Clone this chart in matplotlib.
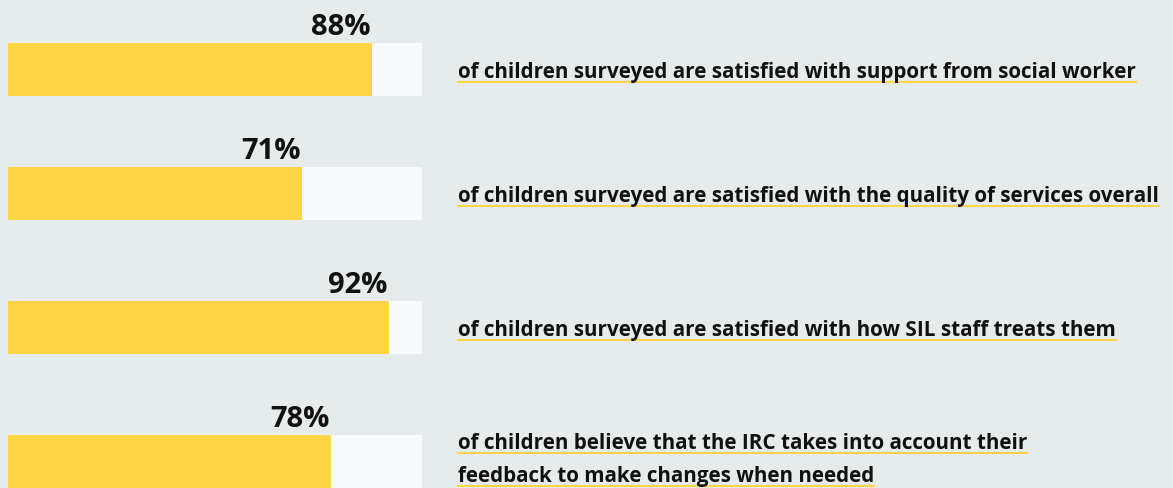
import matplotlib.pyplot as plt
from matplotlib.lines import Line2D

W, H = 1173, 488

# data
values = [88, 71, 92, 78]
labels = ["88%", "71%", "92%", "78%"]
descriptions = [
    ["of children surveyed are satisfied with support from social worker"],
    ["of children surveyed are satisfied with the quality of services overall"],
    ["of children surveyed are satisfied with how SIL staff treats them"],
    ["of children believe that the IRC takes into account their",
     "feedback to make changes when needed"],
]
bar_top = [43, 167, 301, 435]   # pixel rows of the bar tops
BAR_H = 53

BG = "#E6ECEC"
YELLOW = "#FFD447"
TRACK = "#F8F9FA"

fig = plt.figure(figsize=(W / 100, H / 100), dpi=100)
fig.patch.set_facecolor(BG)

# bars axis: x in percent, y in pixel rows (inverted)
ax = fig.add_axes([8 / W, 0, 414 / W, 1])
ax.set_xlim(0, 100)
ax.set_ylim(H, 0)
ax.axis("off")

centers = [t + BAR_H / 2 for t in bar_top]
ax.barh(centers, [100] * 4, height=BAR_H, color=TRACK, left=0)
ax.barh(centers, values, height=BAR_H, color=YELLOW, left=0)

for v, lab, t in zip(values, labels, bar_top):
    ax.text(v - 0.4, t - 8, lab, ha="right", va="baseline", fontsize=21,
            fontweight="bold", family="Open Sans", color="#111111")

# description text with yellow underline
fig.canvas.draw()
r = fig.canvas.get_renderer()
for lines, c in zip(descriptions, centers):
    n = len(lines)
    base = c + 8.5 - (n - 1) * 4.5
    for i, line in enumerate(lines):
        y = base + (i - (n - 1) / 2) * 33   # baseline row
        txt = fig.text(458 / W, 1 - y / H, line, ha="left", va="baseline",
                       fontsize=14.9, fontweight="bold", family="Open Sans",
                       color="#111111")
        bb = txt.get_window_extent(r)
        uy = 1 - (y + 3.5) / H
        fig.add_artist(Line2D([bb.x0 / W, bb.x1 / W], [uy, uy],
                              transform=fig.transFigure, color=YELLOW, lw=1.5))

fig.savefig("out.png", dpi=100, facecolor=BG)
